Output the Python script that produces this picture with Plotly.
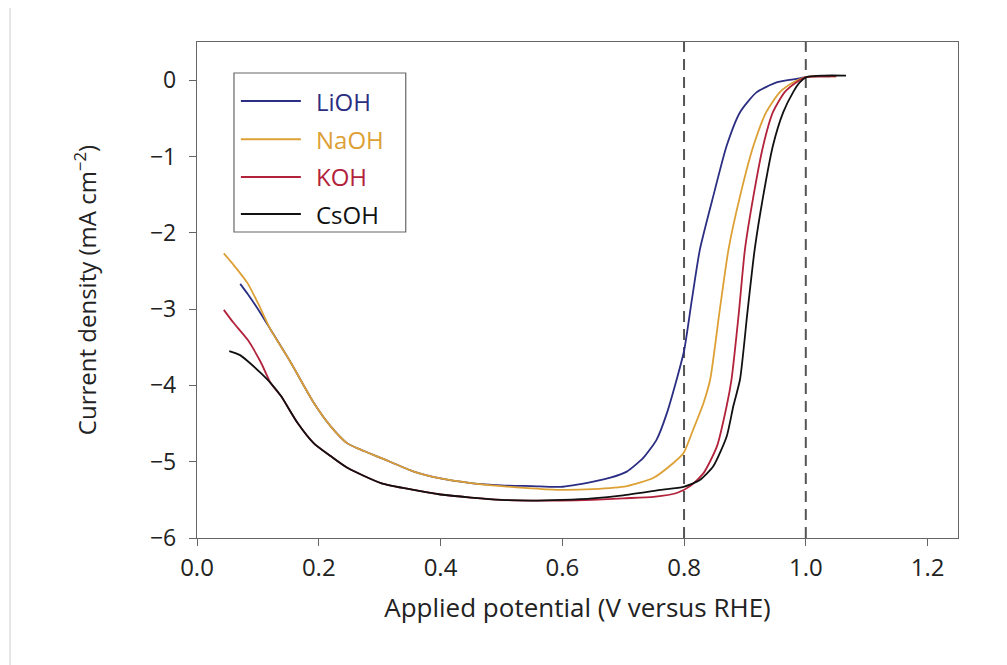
import plotly.graph_objects as go

names = ["LiOH", "NaOH", "KOH", "CsOH"]
colors = ["#2b2e82", "#dda035", "#b3223b", "#111111"]

v_lioh = [0.071, 0.083, 0.10, 0.121, 0.154, 0.192, 0.220, 0.247, 0.274, 0.302, 0.356, 0.400, 0.45, 0.50, 0.55,
          0.597, 0.651, 0.679, 0.706, 0.733, 0.755, 0.772, 0.788, 0.800, 0.813, 0.826, 0.848, 0.870, 0.892, 0.919,
          0.952, 0.979, 1.001, 1.02, 1.04]
j_lioh = [-2.67, -2.80, -3.00, -3.27, -3.70, -4.23, -4.54, -4.76, -4.86, -4.95, -5.13, -5.22, -5.28, -5.31, -5.32,
          -5.33, -5.26, -5.21, -5.13, -4.95, -4.71, -4.36, -3.92, -3.55, -2.87, -2.22, -1.52, -0.86, -0.42, -0.16,
          -0.03, 0.01, 0.04, 0.05, 0.05]

v_naoh = [0.044, 0.06, 0.083, 0.10, 0.121, 0.154, 0.192, 0.220, 0.247, 0.274, 0.302, 0.356, 0.400, 0.45, 0.50,
          0.55, 0.597, 0.65, 0.706, 0.750, 0.782, 0.799, 0.815, 0.832, 0.843, 0.858, 0.873, 0.892, 0.914, 0.935,
          0.957, 0.979, 1.000, 1.025, 1.05]
j_naoh = [-2.27, -2.42, -2.66, -2.92, -3.27, -3.70, -4.23, -4.54, -4.76, -4.86, -4.95, -5.13, -5.22, -5.28, -5.32,
          -5.35, -5.37, -5.36, -5.32, -5.21, -5.02, -4.89, -4.58, -4.23, -3.92, -3.05, -2.22, -1.52, -0.86, -0.42,
          -0.16, -0.03, 0.04, 0.05, 0.05]

v_koh = [0.044, 0.06, 0.083, 0.105, 0.121, 0.138, 0.165, 0.192, 0.220, 0.247, 0.302, 0.356, 0.400, 0.45, 0.50,
         0.55, 0.597, 0.65, 0.70, 0.75, 0.788, 0.810, 0.832, 0.854, 0.870, 0.878, 0.890, 0.900, 0.914, 0.930,
         0.946, 0.965, 0.984, 1.000, 1.025, 1.05]
j_koh = [-3.01, -3.18, -3.40, -3.70, -3.97, -4.14, -4.49, -4.76, -4.93, -5.08, -5.28, -5.37, -5.43, -5.47, -5.50,
         -5.51, -5.51, -5.50, -5.48, -5.46, -5.41, -5.32, -5.15, -4.80, -4.27, -3.92, -3.05, -2.22, -1.52, -0.86,
         -0.42, -0.16, -0.03, 0.04, 0.05, 0.05]

v_csoh = [0.053, 0.07, 0.083, 0.105, 0.121, 0.138, 0.165, 0.192, 0.220, 0.247, 0.302, 0.356, 0.400, 0.45, 0.50,
          0.55, 0.60, 0.65, 0.70, 0.761, 0.799, 0.826, 0.848, 0.870, 0.881, 0.892, 0.904, 0.916, 0.930, 0.946,
          0.963, 0.979, 0.990, 1.001, 1.03, 1.066]
j_csoh = [-3.55, -3.60, -3.68, -3.84, -3.97, -4.14, -4.49, -4.76, -4.93, -5.08, -5.28, -5.37, -5.43, -5.47, -5.50,
          -5.51, -5.50, -5.48, -5.44, -5.37, -5.33, -5.24, -5.06, -4.67, -4.27, -3.92, -3.05, -2.22, -1.52, -0.86,
          -0.42, -0.16, -0.03, 0.04, 0.06, 0.06]

series_v = [v_lioh, v_naoh, v_koh, v_csoh]
series_j = [j_lioh, j_naoh, j_koh, j_csoh]

x_ticks = [0.0, 0.2, 0.4, 0.6, 0.8, 1.0, 1.2]
x_tick_text = ["0.0", "0.2", "0.4", "0.6", "0.8", "1.0", "1.2"]
y_ticks = [0, -1, -2, -3, -4, -5, -6]
y_tick_text = ["0", "−1", "−2", "−3", "−4", "−5", "−6"]
ref_lines = [0.8, 1.0]

FONT = "Open Sans"
TXT = "#222222"
fig = go.Figure()

for v, j, n, c in zip(series_v, series_j, names, colors):
    fig.add_trace(go.Scatter(x=v, y=j, mode="lines", name=n,
                             line=dict(color=c, width=1.8, shape="spline", smoothing=0.6),
                             showlegend=False))

for xv in ref_lines:
    fig.add_shape(type="line", x0=xv, x1=xv, y0=-6, y1=0.5, xref="x", yref="y",
                  line=dict(color="#555555", width=2, dash="11px,7px"), layer="below")

# manual legend (box, line samples, coloured labels)
lx0, lx1, ly0, ly1 = 0.0486, 0.2743, 0.6169, 0.9375
fig.add_shape(type="rect", xref="paper", yref="paper", x0=lx0, x1=lx1, y0=ly0, y1=ly1,
              line=dict(color="#666666", width=1.2), fillcolor="white")
entry_y = [0.881, 0.804, 0.728, 0.653]
for n, c, ey in zip(names, colors, entry_y):
    fig.add_shape(type="line", xref="paper", yref="paper", x0=0.0577, x1=0.1365, y0=ey, y1=ey,
                  line=dict(color=c, width=2))
    fig.add_annotation(xref="paper", yref="paper", x=0.1535, y=ey, text=n, showarrow=False,
                       xanchor="left", yanchor="middle", font=dict(family=FONT, size=24, color=c))

# faint screenshot border line at the left edge
fig.add_shape(type="line", xref="paper", yref="paper", x0=-0.2457, x1=-0.2457, y0=-0.28, y1=1.08,
              line=dict(color="#dddddd", width=1.5))

axis_common = dict(showline=True, linecolor="#666666", linewidth=1.3, mirror=True, showgrid=False,
                   zeroline=False, ticks="outside", ticklen=7, tickwidth=1.2, tickcolor="#666666")

fig.update_xaxes(range=[0, 1.25], tickvals=x_ticks, ticktext=x_tick_text,
                 tickfont=dict(family=FONT, size=24, color=TXT), ticklabelstandoff=1,
                 title=dict(text="Applied potential (V versus RHE)", font=dict(family=FONT, size=26, color=TXT),
                            standoff=16), **axis_common)
fig.update_yaxes(range=[-6, 0.5], tickvals=y_ticks, ticktext=y_tick_text,
                 tickfont=dict(family=FONT, size=23, color=TXT), ticklabelstandoff=8,
                 title=dict(text="Current density (mA cm<sup>−2</sup>)", font=dict(family=FONT, size=24, color=TXT),
                            standoff=46), **axis_common)

fig.update_layout(width=1007, height=665, margin=dict(l=189, r=57, t=34, b=135),
                  plot_bgcolor="white", paper_bgcolor="white", showlegend=False)

fig.write_html("out.html")
